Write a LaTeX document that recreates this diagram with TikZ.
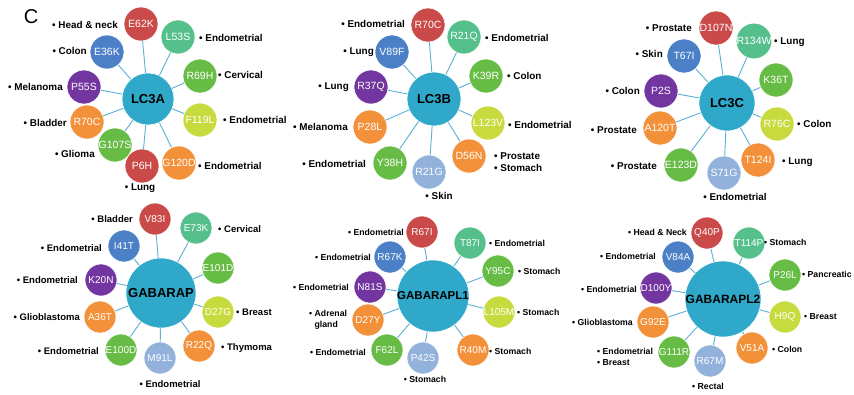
\documentclass[tikz,border=0pt]{standalone}
\usepackage{fontspec}
\setmainfont{Liberation Sans}
\definecolor{cred}{HTML}{C94A48}
\definecolor{cteal}{HTML}{56C08D}
\definecolor{cgreen}{HTML}{67BC45}
\definecolor{cyell}{HTML}{C8DB3E}
\definecolor{corange}{HTML}{F3913A}
\definecolor{clblue}{HTML}{92B2DC}
\definecolor{cpurple}{HTML}{7335A0}
\definecolor{cblue}{HTML}{4B80C6}
\definecolor{chub}{HTML}{2FA8C9}
\definecolor{cconn}{HTML}{5BB0D8}
\tikzset{
  hub/.style={circle, fill=chub, draw=white, line width=0.6pt, inner sep=0pt, font=\fontsize{13}{14}\selectfont\bfseries, text=black},
  sat/.style={circle, draw=white, line width=0.6pt, inner sep=0pt, minimum size=34pt, text=white, font=\fontsize{10.5}{11}\selectfont},
  satb/.style={sat, minimum size=32pt, font=\fontsize{10}{11}\selectfont},
  conn/.style={draw=cconn, line width=0.9pt},
  lab/.style={inner sep=0pt, font=\fontsize{9.9}{10.5}\selectfont\bfseries, text=black},
  labd/.style={lab, font=\fontsize{9.5}{10.5}\selectfont\bfseries},
  labb/.style={lab, font=\fontsize{8.7}{10.5}\selectfont\bfseries, align=left},
}
\begin{document}
\begin{tikzpicture}[x=1pt,y=-1pt]
\useasboundingbox (0,0) rectangle (854,394);
\fill[white] (0,0) rectangle (854,394);
\node[inner sep=0pt, font=\fontsize{20}{21}\selectfont] (tC) at (31,17) {C};
% ---------- LC3A ----------
\node[hub, minimum size=52pt] (A) at (148,99) {LC3A};
\foreach \n/\x/\y/\c/\t in {a1/141/24/cred/E62K, a2/178/37/cteal/L53S, a3/200/76/cgreen/R69H, a4/200/120/cyell/F119L, a5/179/163/corange/G120D, a6/142/166/cred/P6H, a7/115/145/cgreen/G107S, a8/87/122/corange/R70C, a9/84/87/cpurple/P55S, a10/107/52/cblue/E36K}
{ \node[sat, fill=\c] (\n) at (\x,\y) {\t}; \draw[conn] (A) -- (\n); }
\node[lab, anchor=east] (la1) at (118,25) {• Head \& neck};
\node[lab, anchor=west] (la2) at (199,38) {• Endometrial};
\node[lab, anchor=west] (la3) at (218,75) {• Cervical};
\node[lab, anchor=west] (la4) at (223,120) {• Endometrial};
\node[lab, anchor=west] (la5) at (198,166) {• Endometrial};
\node[lab] (la6) at (140,188) {• Lung};
\node[lab, anchor=east] (la7) at (95,154) {• Glioma};
\node[lab, anchor=east] (la8) at (67,123) {• Bladder};
\node[lab, anchor=east] (la9) at (63,87) {• Melanoma};
\node[lab, anchor=east] (la10) at (87,51) {• Colon};
% ---------- LC3B ----------
\node[hub, minimum size=54pt] (B) at (434,99) {LC3B};
\foreach \n/\x/\y/\c/\t in {b1/428/25/cred/R70C, b2/464/37/cteal/R21Q, b3/486/76/cgreen/K39R, b4/488/123/cyell/L123V, b5/469/156/corange/D56N, b6/429/172/clblue/R21G, b7/390/163/cgreen/Y38H, b8/370/127/corange/P28L, b9/371/87/cpurple/R37Q, b10/392/52/cblue/V89F}
{ \node[sat, fill=\c] (\n) at (\x,\y) {\t}; \draw[conn] (B) -- (\n); }
\node[lab, anchor=east] (lb1) at (405,24) {• Endometrial};
\node[lab, anchor=west] (lb2) at (485,38) {• Endometrial};
\node[lab, anchor=west] (lb3) at (507,76) {• Colon};
\node[lab, anchor=west] (lb4) at (508,125) {• Endometrial};
\node[lab, anchor=west] (lb5) at (494,156) {• Prostate};
\node[lab, anchor=west] (lb5b) at (494,168) {• Stomach};
\node[lab] (lb6) at (439,196) {• Skin};
\node[lab, anchor=east] (lb7) at (366,164) {• Endometrial};
\node[lab, anchor=east] (lb8) at (348,127) {• Melanoma};
\node[lab, anchor=east] (lb9) at (349,87) {• Lung};
\node[lab, anchor=east] (lb10) at (374,52) {• Lung};
% ---------- LC3C ----------
\node[hub, minimum size=56pt] (Cc) at (727,103) {LC3C};
\foreach \n/\x/\y/\c/\t in {c1/716/28/cred/D107N, c2/754/41/cteal/R134W, c3/776/80/cgreen/K36T, c4/777/124/cyell/R76C, c5/758/160/corange/T124I, c6/724/173/clblue/S71G, c7/681/165/cgreen/E123D, c8/660/128/corange/A120T, c9/661/91/cpurple/P2S, c10/684/56/cblue/T67I}
{ \node[sat, fill=\c] (\n) at (\x,\y) {\t}; \draw[conn] (Cc) -- (\n); }
\node[lab, anchor=east] (lc1) at (692,28) {• Prostate};
\node[lab, anchor=west] (lc2) at (774,42) {• Lung};
\node[lab, anchor=west] (lc4) at (797,124) {• Colon};
\node[lab, anchor=west] (lc5) at (782,162) {• Lung};
\node[lab] (lc6) at (735,197) {• Endometrial};
\node[lab, anchor=east] (lc7) at (657,166) {• Prostate};
\node[lab, anchor=east] (lc8) at (637,130) {• Prostate};
\node[lab, anchor=east] (lc9) at (640,91) {• Colon};
\node[lab, anchor=east] (lc10) at (663,54) {• Skin};
% ---------- GABARAP ----------
\node[hub, minimum size=70pt] (D) at (161,293) {GABARAP};
\foreach \n/\x/\y/\c/\t in {d1/155/219/cred/V83I, d2/196/228/cteal/E73K, d3/218/268/cgreen/E101D, d4/218/312/cyell/D27G, d5/199/346/corange/R22Q, d6/160/358/clblue/M91L, d7/121/350/cgreen/E100D, d8/100/317/corange/A36T, d9/101/280/cpurple/K20N, d10/124/246/cblue/I41T}
{ \node[satb, fill=\c] (\n) at (\x,\y) {\t}; \draw[conn] (D) -- (\n); }
\node[labd, anchor=east] (ld1) at (133,219) {• Bladder};
\node[labd, anchor=west] (ld2) at (218,229) {• Cervical};
\node[labd, anchor=west] (ld4) at (236,312) {• Breast};
\node[labd, anchor=west] (ld5) at (221,348) {• Thymoma};
\node[labd] (ld6) at (170,384) {• Endometrial};
\node[labd, anchor=east] (ld7) at (99,351) {• Endometrial};
\node[labd, anchor=east] (ld8) at (80,317) {• Glioblastoma};
\node[labd, anchor=east] (ld9) at (78,280) {• Endometrial};
\node[labd, anchor=east] (ld10) at (102,248) {• Endometrial};
% ---------- GABARAPL1 ----------
\node[hub, minimum size=72pt, font=\fontsize{11.5}{12}\selectfont\bfseries] (E) at (433,296) {GABARAPL1};
\foreach \n/\x/\y/\c/\t in {e1/422/232/cred/R67I, e2/470/243/cteal/T87I, e3/498/271/cgreen/Y95C, e4/499/312/cyell/L105M, e5/473/350/corange/R40M, e6/423/358/clblue/P42S, e7/387/350/cgreen/F62L, e8/368/320/corange/D27Y, e9/370/287/cpurple/N81S, e10/390/257/cblue/R67K}
{ \node[satb, fill=\c] (\n) at (\x,\y) {\t}; \draw[conn] (E) -- (\n); }
\node[labb, anchor=east] (le1) at (404,232) {• Endometrial};
\node[labb, anchor=west] (le2) at (489,243) {• Endometrial};
\node[labb, anchor=west] (le3) at (518,271) {• Stomach};
\node[labb, anchor=west] (le4) at (517,312) {• Stomach};
\node[labb, anchor=west] (le5) at (489,351) {• Stomach};
\node[labb] (le6) at (425,379) {• Stomach};
\node[labb, anchor=east] (le7) at (366,352) {• Endometrial};
\node[labb, anchor=west] (le8) at (309,320) {• Adrenal\\\phantom{• }gland};
\node[labb, anchor=east] (le9) at (349,287) {• Endometrial};
\node[labb, anchor=east] (le10) at (371,257) {• Endometrial};
% ---------- GABARAPL2 ----------
\node[hub, minimum size=76pt, font=\fontsize{12}{13}\selectfont\bfseries] (F) at (723,299) {GABARAPL2};
\foreach \n/\x/\y/\c/\t in {f1/707/233/cred/Q40P, f2/749/243/cteal/T114P, f3/785/275/cgreen/P26L, f4/785/317/cyell/H9Q, f5/752/348/corange/V51A, f6/710/361/clblue/R67M, f7/674/352/cgreen/G111R, f8/653/322/corange/G92E, f9/656/288/cpurple/D100Y, f10/678/257/cblue/V84A}
{ \node[satb, fill=\c] (\n) at (\x,\y) {\t}; \draw[conn] (F) -- (\n); }
\node[labb, anchor=east] (lf1) at (687,232) {• Head \& Neck};
\node[labb, anchor=west] (lf2) at (764,242) {• Stomach};
\node[labb, anchor=west] (lf3) at (802,274) {• Pancreatic};
\node[labb, anchor=west] (lf4) at (804,317) {• Breast};
\node[labb, anchor=west] (lf5) at (772,349) {• Colon};
\node[labb] (lf6) at (708,386) {• Rectal};
\node[labb, anchor=west] (lf7) at (597,357) {• Endometrial\\• Breast};
\node[labb, anchor=east] (lf8) at (633,322) {• Glioblastoma};
\node[labb, anchor=east] (lf9) at (637,289) {• Endometrial};
\node[labb, anchor=east] (lf10) at (656,256) {• Endometrial};
\end{tikzpicture}
\end{document}
